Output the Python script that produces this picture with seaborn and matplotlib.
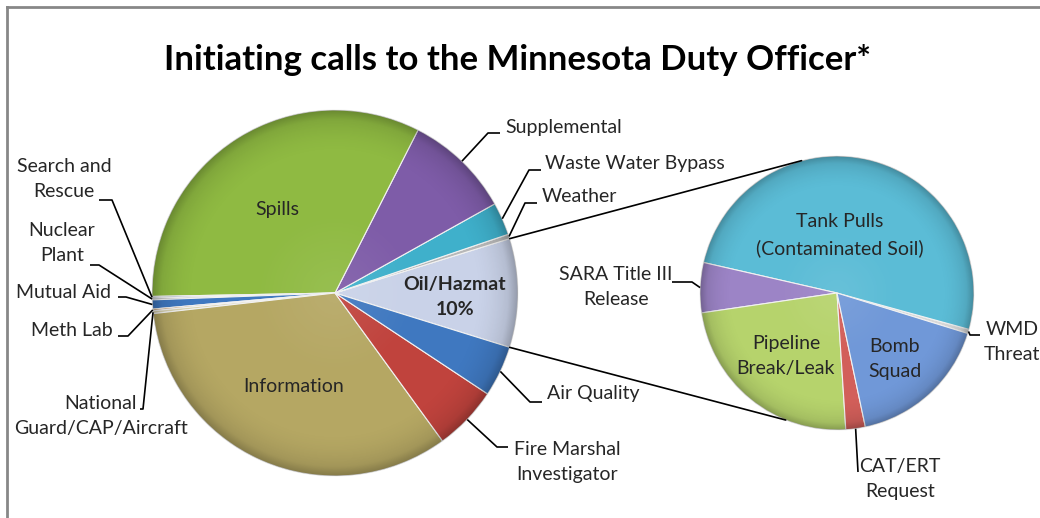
import numpy as np
import matplotlib
matplotlib.use("Agg")
import matplotlib.pyplot as plt
import seaborn as sns
from matplotlib.patches import Circle

# main pie, counter-clockwise starting with the split-off slice
main_labels = [
    "Oil/Hazmat", "Weather", "Waste Water Bypass", "Supplemental", "Spills",
    "Search and\nRescue", "Nuclear\nPlant", "Mutual Aid", "Meth Lab",
    "National\nGuard/CAP/Aircraft", "Information", "Fire Marshal\nInvestigator",
    "Air Quality",
]
main_values = [9.6, 0.4, 2.9, 9.4, 32.8, 0.15, 0.15, 0.8, 0.15, 0.25, 33.2, 5.7, 4.5]
main_colors = [
    "#c9d2e8", "#b8b8b8", "#3fb0cb", "#7e5ca8", "#8fba42",
    "#9aa8c8", "#a0a0a0", "#3f78c0", "#c08a50", "#d8d2b0",
    "#b5a763", "#c0433d", "#3f78c0",
]

# breakdown of Oil/Hazmat calls (share of that slice, %)
oil_labels = [
    "WMD\nThreat", "Tank Pulls\n(Contaminated Soil)", "SARA Title III\nRelease",
    "Pipeline\nBreak/Leak", "CAT/ERT\nRequest", "Bomb\nSquad",
]
oil_values = [0.5, 50.7, 5.9, 23.7, 2.3, 16.9]
oil_colors = ["#d8d8d8", "#5bbcd6", "#9c84c6", "#b6d36c", "#d25f5a", "#7098d8"]
oil_start = -17.2

TITLE = "Initiating calls to the Minnesota Duty Officer*"

W, H = 1040, 518
MAIN_C, MAIN_R = (335, 293), 183
SUB_C, SUB_R = (837, 293), 137

sns.set_theme(style="white")
plt.rcParams["font.family"] = ["Lato", "DejaVu Sans"]


def Y(y):
    return H - y


def edge_point(center, r, ang):
    a = np.deg2rad(ang)
    return center[0] + r * np.cos(a), Y(center[1]) + r * np.sin(a)


def mid_angles(values, start):
    v = np.asarray(values, float)
    cum = np.concatenate([[0], np.cumsum(v)]) / v.sum() * 360 + start
    return (cum[:-1] + cum[1:]) / 2


def shade(ax, center, r):
    # soft darkening toward the rim, clipped to the pie
    n = 300
    g = np.linspace(-1, 1, n)
    xx, yy = np.meshgrid(g, g)
    rr = np.sqrt(xx ** 2 + yy ** 2)
    alpha = np.clip((rr - 0.75) / 0.25, 0, 1) ** 2 * 0.16
    alpha = alpha + np.clip((rr - 0.95) / 0.05, 0, 1) * 0.1
    img = np.zeros((n, n, 4))
    img[..., 3] = alpha
    cx, cy = center[0], Y(center[1])
    im = ax.imshow(img, extent=(cx - r, cx + r, cy - r, cy + r),
                   origin="lower", zorder=2, interpolation="bilinear")
    im.set_clip_path(Circle((cx, cy), r, transform=ax.transData))
    hl = np.zeros((n, n, 4))
    hl[..., :3] = 1
    hl[..., 3] = np.clip(1 - rr / 0.45, 0, 1) * 0.08
    im2 = ax.imshow(hl, extent=(cx - r, cx + r, cy - r, cy + r),
                    origin="lower", zorder=2, interpolation="bilinear")
    im2.set_clip_path(Circle((cx, cy), r, transform=ax.transData))


fig = plt.figure(figsize=(W / 100, H / 100), dpi=100)
ax = fig.add_axes([0, 0, 1, 1])

main_start = -main_values[0] / sum(main_values) * 180
wp = dict(edgecolor="#f2f2f2", linewidth=0.8)
ax.pie(main_values, colors=main_colors, startangle=main_start, counterclock=True,
       radius=MAIN_R, center=(MAIN_C[0], Y(MAIN_C[1])), wedgeprops=wp)
ax.pie(oil_values, colors=oil_colors, startangle=oil_start, counterclock=True,
       radius=SUB_R, center=(SUB_C[0], Y(SUB_C[1])), wedgeprops=wp)
shade(ax, MAIN_C, MAIN_R)
shade(ax, SUB_C, SUB_R)

ax.set_xlim(0, W)
ax.set_ylim(0, H)
ax.set_aspect("equal")
ax.axis("off")

# chart frame (only left and top edges are inside the crop)
ax.plot([7, 7], [Y(7), -5], color="#878787", lw=2, solid_capstyle="projecting")
ax.plot([7, W + 5], [Y(7), Y(7)], color="#878787", lw=2, solid_capstyle="projecting")

ax.text(518, Y(60), TITLE, ha="center", va="center", fontsize=25,
        fontweight="bold", color="black")

# connector lines between the pies
top_main = edge_point(MAIN_C, MAIN_R, main_values[0] / sum(main_values) * 180)
bot_main = edge_point(MAIN_C, MAIN_R, main_start)
ax.plot([top_main[0], SUB_C[0] + SUB_R * np.cos(np.deg2rad(105))],
        [top_main[1], Y(SUB_C[1]) + SUB_R * np.sin(np.deg2rad(105))],
        color="black", lw=1.2, zorder=1)
ax.plot([bot_main[0], SUB_C[0] + SUB_R * np.cos(np.deg2rad(248))],
        [bot_main[1], Y(SUB_C[1]) + SUB_R * np.sin(np.deg2rad(248))],
        color="black", lw=1.2, zorder=1)

FS = 14
LS = 1.6
main_mid = mid_angles(main_values, main_start)
oil_mid = mid_angles(oil_values, oil_start)

# outside labels: label -> (elbow, horizontal end, text pos, ha)
main_leaders = {
    "Supplemental": ((488, 133), (500, 133), (505, 128), "left"),
    "Waste Water Bypass": ((529, 170), (541, 170), (545, 163), "left"),
    "Weather": ((525, 203), (537, 203), (542, 197), "left"),
    "Air Quality": ((530, 402), (542, 402), (547, 394), "left"),
    "Fire Marshal\nInvestigator": ((497, 447), (508, 447), (567, 462), "center"),
    "Search and\nRescue": ((112, 200), (99, 200), (64, 179), "center"),
    "Nuclear\nPlant": ((99, 265), (90, 265), (62, 243), "center"),
    "Mutual Aid": ((126, 297), (118, 297), (64, 292), "center"),
    "Meth Lab": ((128, 336), (118, 336), (72, 330), "center"),
    "National\nGuard/CAP/Aircraft": ((143, 409), (140, 409), (101, 416), "center"),
}
oil_leaders = {
    "SARA Title III\nRelease": ((692, 282), (672, 282), (616, 287), "center"),
    "WMD\nThreat": ((970, 335), (980, 335), (1012, 342), "center"),
    "CAT/ERT\nRequest": ((858, 472), (858, 472), (900, 479), "center"),
}


def draw_leaders(leaders, labels, mids, center, r):
    for lab, (elbow, end, tpos, ha) in leaders.items():
        i = labels.index(lab)
        sx, sy = edge_point(center, r, mids[i])
        ax.plot([sx, elbow[0], end[0]], [sy, Y(elbow[1]), Y(end[1])],
                color="black", lw=1.2, zorder=3, solid_capstyle="butt")
        ax.text(tpos[0], Y(tpos[1]), lab, ha=ha, va="center", fontsize=FS,
                linespacing=LS, multialignment="center", zorder=4)


draw_leaders(main_leaders, main_labels, main_mid, MAIN_C, MAIN_R)
draw_leaders(oil_leaders, oil_labels, oil_mid, SUB_C, SUB_R)

# labels inside slices
inside = [
    ("Spills", (277, 210), "normal"),
    ("Information", (294, 387), "normal"),
    ("Oil/Hazmat\n{:.0f}%".format(main_values[0]), (455, 297), "bold"),
    ("Tank Pulls\n(Contaminated Soil)", (840, 235), "normal"),
    ("Pipeline\nBreak/Leak", (786, 356), "normal"),
    ("Bomb\nSquad", (895, 359), "normal"),
]
for txt, (x, y), fw in inside:
    ax.text(x, Y(y), txt, ha="center", va="center", fontsize=FS,
            fontweight=fw, linespacing=LS, zorder=4)

plt.savefig("out.png", dpi=100)
plt.close()
